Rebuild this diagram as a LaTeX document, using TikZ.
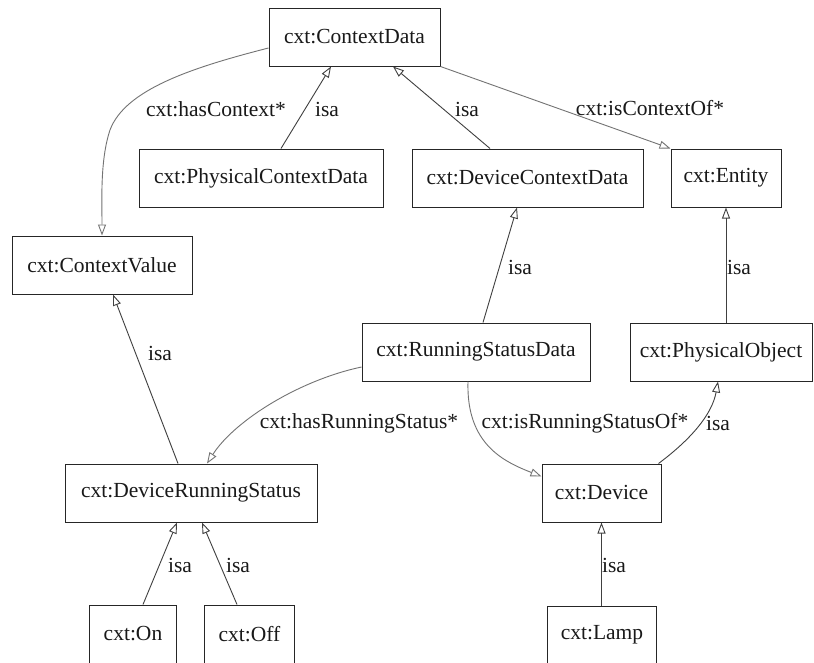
\documentclass[tikz,border=0pt]{standalone}
\usepackage{fontspec}
\setmainfont{Liberation Serif}
\usetikzlibrary{arrows.meta}
\begin{document}
\begin{tikzpicture}[x=1pt,y=-1pt,
  box/.style={draw=black!85, line width=1pt, minimum height=58pt, inner sep=0pt, font=\fontsize{21.5}{24}\selectfont, text=black!90},
  lbl/.style={inner sep=0pt, font=\fontsize{21.5}{24}\selectfont, text=black!90},
  isaedge/.style={draw=black!75, line width=0.9pt, -{Triangle[open,length=11pt,width=8pt]}},
  reledge/.style={draw=black!55, line width=0.9pt, -{Triangle[open,length=11pt,width=8pt]}}]
\clip (0,0) rectangle (814,662);
\fill[white] (0,0) rectangle (814,662);
% nodes
\node[box, minimum width=171pt] (cd)  at (354.5,37) {cxt:ContextData};
\node[box, minimum width=180pt] (cv)  at (102,265) {cxt:ContextValue};
\node[box, minimum width=244pt] (pcd) at (261,178) {cxt:PhysicalContextData};
\node[box, minimum width=231pt] (dcd) at (527.5,178) {cxt:DeviceContextData};
\node[box, minimum width=110pt] (ent) at (726,178) {cxt:Entity};
\node[box, minimum width=228pt] (rsd) at (476,352) {cxt:RunningStatusData};
\node[box, minimum width=182pt] (po)  at (721,352) {cxt:PhysicalObject};
\node[box, minimum width=252pt] (drs) at (191,493) {cxt:DeviceRunningStatus};
\node[box, minimum width=119pt] (dev) at (601.5,493) {cxt:Device};
\node[box, minimum width=87pt]  (on)  at (133,634) {cxt:On};
\node[box, minimum width=90pt]  (off) at (249.5,634) {cxt:Off};
\node[box, minimum width=109pt] (lamp) at (602,635) {cxt:Lamp};
% edges
\draw[reledge] ([yshift=-11pt]cd.west) .. controls (190,68) and (125,90) .. (110,130)
   .. controls (100,160) and (102,200) .. (cv.north);
\draw[isaedge] ([xshift=20pt]pcd.north) -- ([xshift=-23.5pt]cd.south);
\draw[isaedge] ([xshift=-37.5pt]dcd.north) -- ([xshift=38.5pt]cd.south);
\draw[reledge] (cd.south east) -- (ent.north west);
\draw[isaedge] ([xshift=7pt]rsd.north) -- ([xshift=-10.5pt]dcd.south);
\draw[isaedge] (ent.south |- po.north) -- (ent.south);
\draw[isaedge] ([xshift=-13pt]drs.north) -- ([xshift=11pt]cv.south);
\draw[reledge] ([yshift=-15pt]rsd.west) .. controls (300,380) and (235,420) .. ([xshift=16pt]drs.north);
\draw[reledge] ([xshift=-8pt]rsd.south) .. controls (466,445) and (505,462) .. ([yshift=-13pt]dev.north west);
\draw[isaedge] ([xshift=-3pt]dev.north east) .. controls (690,440) and (712,415) .. ([xshift=-3pt]po.south);
\draw[isaedge] ([xshift=10pt]on.north) -- ([xshift=-14pt]drs.south);
\draw[isaedge] ([xshift=-12.5pt]off.north) -- ([xshift=11pt]drs.south);
\draw[isaedge] (lamp.north -| dev.south) -- (dev.south);
% labels
\node[lbl] (l1)  at (216,109) {cxt:hasContext*};
\node[lbl] (l2)  at (327,109) {isa};
\node[lbl] (l3)  at (467,109) {isa};
\node[lbl] (l4)  at (650,108) {cxt:isContextOf*};
\node[lbl] (l5)  at (520,267) {isa};
\node[lbl] (l6)  at (739,267) {isa};
\node[lbl] (l7)  at (160,353) {isa};
\node[lbl] (l8)  at (359,423) {cxt:hasRunningStatus*};
\node[lbl] (l9)  at (585,423) {cxt:isRunningStatusOf*};
\node[lbl] (l10) at (718,423) {isa};
\node[lbl] (l11) at (180,565) {isa};
\node[lbl] (l12) at (238,565) {isa};
\node[lbl] (l13) at (614,565) {isa};
\end{tikzpicture}
\end{document}
